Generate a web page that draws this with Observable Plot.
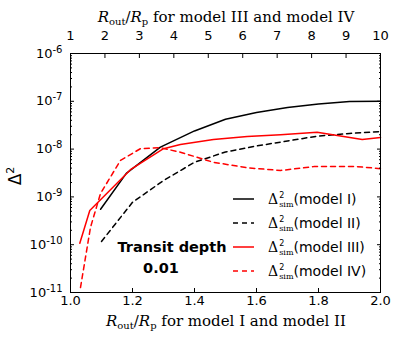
<!DOCTYPE html>
<html><head><meta charset="utf-8">
<script src="https://cdn.jsdelivr.net/npm/d3@7"></script>
<script src="https://cdn.jsdelivr.net/npm/@observablehq/plot@0.6"></script>
<style>
body{margin:0;background:#fff;}
svg{font-family:"DejaVu Sans",sans-serif;}
</style></head><body><div id="chart"></div>
<script>
// Model I and II: x in R_out/R_p (bottom axis)
const modelI_x = [1.097, 1.18, 1.29, 1.4, 1.5, 1.6, 1.7, 1.8, 1.9, 2.0];
const modelI_y = [5.5e-10, 3.1e-9, 1.1e-8, 2.4e-8, 4.2e-8, 5.8e-8, 7.4e-8, 8.8e-8, 9.9e-8, 1.0e-7];
const modelII_x = [1.1, 1.2, 1.3, 1.4, 1.5, 1.6, 1.7, 1.8, 1.9, 2.0];
const modelII_y = [1.17e-10, 7.7e-10, 2.2e-9, 5.3e-9, 8.7e-9, 1.16e-8, 1.48e-8, 1.88e-8, 2.12e-8, 2.33e-8];
// Model III and IV: x in R_out/R_p (top axis, 1..10)
const modelIII_t = [1.27, 1.56, 2.74, 3.7, 4.19, 5.15, 6.13, 7.1, 8.16, 9.47, 10];
const modelIII_y = [1.07e-10, 5.2e-10, 3.7e-9, 1.02e-8, 1.25e-8, 1.58e-8, 1.84e-8, 2.0e-8, 2.26e-8, 1.58e-8, 1.75e-8];
const modelIV_t = [1.29, 1.58, 1.87, 2.45, 3.03, 3.61, 4.19, 5.15, 6.13, 7.1, 8.06, 9.32, 10];
const modelIV_y = [1.27e-11, 2.3e-10, 1.17e-9, 5.8e-9, 1.02e-8, 1.07e-8, 8.6e-9, 5.3e-9, 4.07e-9, 3.57e-9, 4.3e-9, 4.3e-9, 3.9e-9];

const bottomTicks = [1.0, 1.2, 1.4, 1.6, 1.8, 2.0];
const topTicks = [1, 2, 3, 4, 5, 6, 7, 8, 9, 10];
const yTicks = [1e-11, 1e-10, 1e-9, 1e-8, 1e-7, 1e-6];
const legendLabels = ["model I", "model II", "model III", "model IV"];
const annotation = ["Transit depth", "0.01"];

const toBottom = t => 1 + (t - 1) / 9;
const fromBottom = b => Math.round(1 + 9 * (b - 1));

const dI = modelI_x.map((x, i) => ({x, y: modelI_y[i]}));
const dII = modelII_x.map((x, i) => ({x, y: modelII_y[i]}));
const dIII = modelIII_t.map((t, i) => ({x: toBottom(t), y: modelIII_y[i]}));
const dIV = modelIV_t.map((t, i) => ({x: toBottom(t), y: modelIV_y[i]}));

const minorY = [];
for (let k = -11; k < -6; k++) for (let m = 2; m <= 9; m++) minorY.push(m * Math.pow(10, k));

const W = 399, H = 343, ML = 70, MR = 19, MT = 53, MB = 51;

const chart = Plot.plot({
  width: W, height: H,
  marginLeft: ML, marginRight: MR, marginTop: MT, marginBottom: MB,
  style: {fontSize: "13px", fontFamily: "DejaVu Sans", background: "white", color: "black"},
  x: {domain: [1, 2]},
  y: {type: "log", domain: [1e-11, 1e-6]},
  marks: [
    Plot.line(dI, {x: "x", y: "y", stroke: "black", strokeWidth: 1.5}),
    Plot.line(dII, {x: "x", y: "y", stroke: "black", strokeWidth: 1.5, strokeDasharray: "5,4"}),
    Plot.line(dIII, {x: "x", y: "y", stroke: "#ff0000", strokeWidth: 1.5}),
    Plot.line(dIV, {x: "x", y: "y", stroke: "#ff0000", strokeWidth: 1.5, strokeDasharray: "5,4"}),
    Plot.axisX(bottomTicks, {anchor: "bottom", tickSize: 0, tickPadding: 3, tickFormat: d3.format(".1f"), label: null}),
    Plot.axisX(bottomTicks, {anchor: "bottom", tickSize: -4, fill: "none", label: null}),
    Plot.axisX(topTicks.map(toBottom), {anchor: "top", tickSize: 0, tickPadding: 14, tickFormat: fromBottom, label: null}),
    Plot.axisX(topTicks.map(toBottom), {anchor: "top", tickSize: -4, fill: "none", label: null}),
    Plot.axisY(yTicks, {anchor: "left", tickSize: 0, tickPadding: 8, tickFormat: d => "10^" + Math.round(Math.log10(d)), label: null}),
    Plot.axisY(yTicks, {anchor: "left", tickSize: -4, fill: "none", label: null}),
    Plot.axisY(minorY, {anchor: "left", tickSize: -2, fill: "none", label: null}),
    Plot.axisY(yTicks, {anchor: "right", tickSize: -4, fill: "none", label: null}),
    Plot.axisY(minorY, {anchor: "right", tickSize: -2, fill: "none", label: null}),
    Plot.frame({stroke: "black"})
  ]
});

document.getElementById("chart").appendChild(chart);

// superscript exponents on y tick labels
chart.querySelectorAll('g[aria-label="y-axis tick label"] text').forEach(t => {
  const s = t.textContent;
  const exp = s.split("^")[1];
  t.textContent = "";
  const svgns = "http://www.w3.org/2000/svg";
  const a = document.createElementNS(svgns, "tspan"); a.textContent = "10"; t.appendChild(a);
  const b = document.createElementNS(svgns, "tspan"); b.textContent = exp;
  b.setAttribute("dy", "-0.5em"); b.setAttribute("font-size", "10px"); t.appendChild(b);
});

const svg = d3.select(chart);
function axisTitle(y, rest) {
  const t = svg.append("text").attr("x", (ML + W - MR) / 2 + 1).attr("y", y)
    .attr("text-anchor", "middle").attr("font-family", "DejaVu Serif").attr("font-size", "15px");
  t.append("tspan").attr("font-style", "italic").text("R");
  t.append("tspan").attr("font-size", "10px").attr("dy", 3).text("out");
  t.append("tspan").attr("dy", -3).text("/");
  t.append("tspan").attr("font-style", "italic").text("R");
  t.append("tspan").attr("font-size", "10px").attr("dy", 3).text("p");
  t.append("tspan").attr("dy", -3).text(rest);
}
axisTitle(326, " for model I and model II");
axisTitle(22, " for model III and model IV");

// y label
const yl = svg.append("text").attr("transform", "translate(21,176) rotate(-90)")
  .attr("text-anchor", "middle").attr("font-size", "17px");
yl.append("tspan").text("Δ");
yl.append("tspan").attr("font-size", "11px").attr("dy", -7).text("2");

// annotation
svg.append("text").attr("x", 172).attr("y", 252).attr("text-anchor", "middle")
  .attr("font-weight", "bold").attr("font-size", "14.5px").text(annotation[0]);
svg.append("text").attr("x", 161).attr("y", 273).attr("text-anchor", "middle")
  .attr("font-weight", "bold").attr("font-size", "14.5px").text(annotation[1]);

// legend
const styles = [
  {stroke: "black", dash: null}, {stroke: "black", dash: "5,4"},
  {stroke: "#ff0000", dash: null}, {stroke: "#ff0000", dash: "5,4"}
];
legendLabels.forEach((lab, i) => {
  const cy = 199 + 24 * i;
  svg.append("line").attr("x1", 233).attr("x2", 254).attr("y1", cy).attr("y2", cy)
    .attr("stroke", styles[i].stroke).attr("stroke-width", 1.5)
    .attr("stroke-dasharray", styles[i].dash);
  const t = svg.append("text").attr("x", 268).attr("y", cy + 5).attr("font-size", "14px")
    .attr("text-anchor", "start");
  t.append("tspan").attr("font-family", "DejaVu Serif").text("Δ");
  t.append("tspan").attr("font-size", "8px").attr("dy", -6).attr("dx", 1).text("2");
  t.append("tspan").attr("font-size", "8px").attr("font-family", "DejaVu Serif").attr("dy", 9).attr("dx", -5).text("sim");
  t.append("tspan").attr("dy", -3).text("(" + lab + ")");
});
</script></body></html>
